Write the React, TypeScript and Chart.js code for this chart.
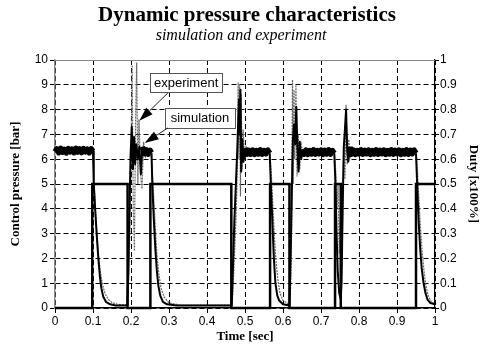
import React, { useEffect, useRef } from 'react';
import { Chart, registerables } from 'chart.js';

Chart.register(...registerables);

const TITLE = 'Dynamic pressure characteristics';
const SUBTITLE = 'simulation and experiment';
const X_TITLE = 'Time [sec]';
const Y_TITLE = 'Control pressure [bar]';
const Y1_TITLE = 'Duty [x100%]';

const xTickLabels = ['0', '0.1', '0.2', '0.3', '0.4', '0.5', '0.6', '0.7', '0.8', '0.9', '1'];
const yTickLabels = ['0', '1', '2', '3', '4', '5', '6', '7', '8', '9', '10'];
const y1TickLabels = ['0', '0.1', '0.2', '0.3', '0.4', '0.5', '0.6', '0.7', '0.8', '0.9', '1'];

// duty command [time, duty]
const duty: [number, number][] = [
  [0, 0], [0.098, 0], [0.098, 0.5], [0.191, 0.5], [0.191, 0], [0.251, 0], [0.251, 0.5],
  [0.464, 0.5], [0.464, 0], [0.566, 0], [0.566, 0.5], [0.617, 0.5], [0.617, 0],
  [0.737, 0], [0.737, 0.5], [0.752, 0.5], [0.752, 0], [0.95, 0], [0.95, 0.5], [1, 0.5],
];

// simulation pressure [time, bar]
const simulation: [number, number][] = [
  [0, 6.3], [0.005, 6.42], [0.01, 6.26], [0.015, 6.44], [0.02, 6.28], [0.025, 6.4], [0.03, 6.25],
  [0.035, 6.43], [0.04, 6.3], [0.045, 6.41], [0.05, 6.26], [0.055, 6.44], [0.06, 6.29], [0.065, 6.42],
  [0.07, 6.27], [0.075, 6.43], [0.08, 6.3], [0.085, 6.4], [0.09, 6.26], [0.095, 6.42], [0.1, 6.32],
  [0.102, 5.0], [0.106, 3.9], [0.11, 2.9], [0.114, 2.0], [0.118, 1.3], [0.122, 0.8], [0.127, 0.45],
  [0.134, 0.25], [0.145, 0.15], [0.16, 0.1], [0.19, 0.1],
  [0.193, 1.5], [0.196, 4.0], [0.199, 6.2], [0.202, 7.3], [0.205, 5.6], [0.208, 6.9], [0.211, 5.8],
  [0.214, 6.6], [0.218, 6.0], [0.222, 6.5], [0.226, 5.4], [0.23, 6.5], [0.235, 6.22], [0.24, 6.38],
  [0.245, 6.2], [0.25, 6.36], [0.254, 6.26],
  [0.256, 5.0], [0.26, 3.6], [0.264, 2.4], [0.268, 1.5], [0.272, 0.9], [0.277, 0.5], [0.284, 0.25],
  [0.295, 0.15], [0.32, 0.1], [0.465, 0.1],
  [0.468, 1.5], [0.472, 3.5], [0.476, 5.0], [0.48, 6.5], [0.484, 8.4], [0.486, 7.0], [0.488, 8.8],
  [0.49, 5.5], [0.493, 6.8], [0.496, 5.9], [0.5, 6.45], [0.505, 6.2],
  [0.51, 6.36], [0.515, 6.2], [0.52, 6.37], [0.525, 6.19], [0.53, 6.35], [0.535, 6.21], [0.54, 6.38],
  [0.545, 6.2], [0.55, 6.35], [0.555, 6.22], [0.56, 6.37], [0.565, 6.24],
  [0.568, 5.0], [0.572, 3.5], [0.576, 2.0], [0.58, 1.0], [0.585, 0.5], [0.59, 0.3], [0.6, 0.15], [0.617, 0.1],
  [0.62, 2.0], [0.623, 4.5], [0.626, 6.8], [0.629, 7.4], [0.632, 6.6], [0.635, 8.1], [0.638, 6.4],
  [0.641, 5.5], [0.644, 6.7], [0.648, 6.0], [0.652, 6.4],
  [0.655, 6.2], [0.66, 6.37], [0.665, 6.19], [0.67, 6.35], [0.675, 6.21], [0.68, 6.38], [0.685, 6.2],
  [0.69, 6.35], [0.695, 6.22], [0.7, 6.37], [0.705, 6.19], [0.71, 6.36], [0.715, 6.21], [0.72, 6.38],
  [0.725, 6.2], [0.73, 6.35], [0.735, 6.24],
  [0.738, 5.0], [0.741, 3.0], [0.744, 1.5], [0.748, 0.6], [0.752, 0.35], [0.754, 1.0], [0.757, 4.0],
  [0.76, 6.5], [0.763, 7.2], [0.766, 8.0], [0.769, 6.3], [0.772, 5.9], [0.776, 6.5], [0.78, 6.2],
  [0.785, 6.37], [0.79, 6.19], [0.795, 6.35], [0.8, 6.21], [0.805, 6.38], [0.81, 6.2], [0.815, 6.36],
  [0.82, 6.22], [0.825, 6.37], [0.83, 6.19], [0.835, 6.35], [0.84, 6.21], [0.845, 6.38], [0.85, 6.2],
  [0.855, 6.36], [0.86, 6.22], [0.865, 6.37], [0.87, 6.19], [0.875, 6.35], [0.88, 6.21], [0.885, 6.38],
  [0.89, 6.2], [0.895, 6.36], [0.9, 6.22], [0.905, 6.37], [0.91, 6.19], [0.915, 6.35], [0.92, 6.21],
  [0.925, 6.38], [0.93, 6.2], [0.935, 6.36], [0.94, 6.22], [0.945, 6.37], [0.95, 6.24],
  [0.953, 5.0], [0.957, 3.5], [0.961, 2.4], [0.965, 1.6], [0.97, 1.0], [0.975, 0.6], [0.98, 0.35],
  [0.988, 0.2], [1, 0.15],
];

// experiment pressure [time, bar]
const experiment: [number, number][] = [
  [0, 6.35], [0.02, 6.3], [0.04, 6.4], [0.06, 6.3], [0.08, 6.4], [0.1, 6.3],
  [0.103, 5.0], [0.107, 3.8], [0.111, 2.8], [0.115, 2.0], [0.12, 1.4], [0.125, 0.95], [0.131, 0.6],
  [0.14, 0.35], [0.15, 0.22], [0.165, 0.15], [0.19, 0.12],
  [0.193, 0.6], [0.197, 3.0], [0.2, 6.0], [0.203, 9.8], [0.206, 4.0], [0.209, 2.3], [0.212, 7.5],
  [0.215, 9.9], [0.218, 5.0], [0.221, 7.6], [0.225, 5.4], [0.229, 4.8], [0.233, 6.7], [0.238, 6.1],
  [0.245, 6.4], [0.252, 6.3],
  [0.256, 5.6], [0.26, 4.4], [0.264, 3.2], [0.268, 2.2], [0.273, 1.4], [0.279, 0.8], [0.287, 0.45],
  [0.3, 0.2], [0.33, 0.12], [0.465, 0.12],
  [0.468, 0.6], [0.472, 2.0], [0.476, 3.5], [0.479, 5.0], [0.482, 9.1], [0.484, 6.0], [0.486, 9.0],
  [0.488, 4.5], [0.49, 8.6], [0.492, 5.6], [0.495, 7.2], [0.499, 6.0], [0.503, 6.5], [0.51, 6.3],
  [0.54, 6.3], [0.565, 6.3],
  [0.569, 5.5], [0.573, 4.2], [0.577, 3.0], [0.581, 2.0], [0.586, 1.2], [0.592, 0.6], [0.6, 0.3], [0.617, 0.15],
  [0.62, 0.8], [0.623, 3.5], [0.625, 9.2], [0.627, 5.0], [0.629, 8.8], [0.631, 6.0], [0.634, 9.0],
  [0.637, 5.3], [0.64, 7.0], [0.644, 5.6], [0.648, 6.6], [0.653, 6.2], [0.66, 6.35], [0.7, 6.3], [0.735, 6.3],
  [0.739, 5.5], [0.742, 4.0], [0.745, 5.0], [0.748, 2.2], [0.751, 3.5], [0.754, 1.0], [0.757, 4.0],
  [0.76, 6.5], [0.763, 5.2], [0.766, 8.2], [0.769, 5.8], [0.773, 6.8], [0.777, 6.1], [0.782, 6.35],
  [0.85, 6.3], [0.95, 6.3],
  [0.954, 5.5], [0.958, 4.3], [0.962, 3.2], [0.966, 2.3], [0.971, 1.5], [0.976, 0.9], [0.982, 0.5],
  [0.99, 0.25], [1, 0.15],
];

// callout boxes in data coordinates (time, bar)
const callouts = [
  { text: 'experiment', x0: 0.25, y0: 9.48, x1: 0.44, y1: 8.71, from: [0.297, 8.67], to: [0.222, 7.55] },
  { text: 'simulation', x0: 0.289, y0: 8.06, x1: 0.474, y1: 7.26, from: [0.297, 7.26], to: [0.236, 6.65] },
];

const decorPlugin = {
  id: 'decor',
  afterDatasetsDraw(chart: any) {
    const { ctx, chartArea, scales } = chart;
    const xs = scales.x;
    const ys = scales.y;
    ctx.save();
    ctx.strokeStyle = '#888';
    ctx.lineWidth = 1;
    ctx.setLineDash([]);
    ctx.beginPath();
    ctx.moveTo(chartArea.left, chartArea.top + 0.5);
    ctx.lineTo(chartArea.right, chartArea.top + 0.5);
    ctx.stroke();
    for (const c of callouts) {
      const l = xs.getPixelForValue(c.x0);
      const r = xs.getPixelForValue(c.x1);
      const t = ys.getPixelForValue(c.y0);
      const b = ys.getPixelForValue(c.y1);
      ctx.fillStyle = '#fff';
      ctx.fillRect(l, t, r - l, b - t);
      ctx.strokeStyle = '#555';
      ctx.lineWidth = 1;
      ctx.strokeRect(Math.round(l) + 0.5, Math.round(t) + 0.5, Math.round(r - l), Math.round(b - t));
      ctx.fillStyle = '#000';
      ctx.font = '13px "Liberation Sans", Arial, sans-serif';
      ctx.textAlign = 'center';
      ctx.textBaseline = 'middle';
      ctx.fillText(c.text, (l + r) / 2, (t + b) / 2 + 0.5);
      const fx = xs.getPixelForValue(c.from[0]);
      const fy = ys.getPixelForValue(c.from[1]);
      const tx = xs.getPixelForValue(c.to[0]);
      const ty = ys.getPixelForValue(c.to[1]);
      const ang = Math.atan2(ty - fy, tx - fx);
      const hl = 14;
      const hw = 4.5;
      const bx = tx - hl * Math.cos(ang);
      const by = ty - hl * Math.sin(ang);
      ctx.strokeStyle = '#222';
      ctx.lineWidth = 1;
      ctx.beginPath();
      ctx.moveTo(fx, fy);
      ctx.lineTo(bx, by);
      ctx.stroke();
      ctx.fillStyle = '#000';
      ctx.beginPath();
      ctx.moveTo(tx, ty);
      ctx.lineTo(bx + hw * Math.sin(ang), by - hw * Math.cos(ang));
      ctx.lineTo(bx - hw * Math.sin(ang), by + hw * Math.cos(ang));
      ctx.closePath();
      ctx.fill();
    }
    ctx.restore();
  },
  afterDraw(chart: any) {
    const { ctx } = chart;
    ctx.save();
    ctx.fillStyle = '#000';
    ctx.textAlign = 'center';
    ctx.textBaseline = 'middle';
    ctx.font = 'bold 21px "Liberation Serif", "Times New Roman", serif';
    ctx.fillText(TITLE, 247, 16);
    ctx.font = 'italic 16px "Liberation Serif", "Times New Roman", serif';
    ctx.fillText(SUBTITLE, 241, 36);
    ctx.restore();
  },
};

const tickFont = { family: '"Liberation Sans", Arial, sans-serif', size: 12 };
const titleFont = { family: '"Liberation Serif", "Times New Roman", serif', size: 13, weight: 'bold' as const };

const inBand = (v: number) => v > 6.1 && v < 6.6;

export default function App() {
  const ref = useRef<HTMLCanvasElement | null>(null);
  useEffect(() => {
    if (!ref.current) return;
    const chart = new Chart(ref.current, {
      type: 'line',
      data: {
        datasets: [
          {
            label: 'duty',
            data: duty.map(([x, y]) => ({ x, y })),
            yAxisID: 'y1',
            borderColor: '#000',
            borderWidth: 2.5,
            pointRadius: 0,
            tension: 0,
            clip: 4,
            order: 0,
          },
          {
            label: 'simulation',
            data: simulation.map(([x, y]) => ({ x, y })),
            yAxisID: 'y',
            borderColor: '#000',
            borderWidth: 2,
            borderJoinStyle: 'round',
            pointRadius: 0,
            tension: 0,
            clip: 4,
            order: 1,
            segment: {
              borderWidth: (c: any) => (inBand(c.p0.parsed.y) && inBand(c.p1.parsed.y) ? 5.5 : 2),
              borderJoinStyle: () => 'round',
            },
          },
          {
            label: 'experiment',
            data: experiment.map(([x, y]) => ({ x, y })),
            yAxisID: 'y',
            borderColor: '#666',
            borderWidth: 1.2,
            borderDash: [2, 1],
            pointRadius: 0,
            tension: 0,
            clip: 4,
            order: 2,
          },
        ] as any,
      },
      options: {
        animation: false,
        responsive: true,
        maintainAspectRatio: false,
        layout: { padding: { top: 60, left: 0, right: 0, bottom: 0 } },
        plugins: { legend: { display: false }, tooltip: { enabled: false } },
        scales: {
          x: {
            type: 'linear',
            min: 0,
            max: 1,
            afterFit: (s: any) => { s.height = 42; },
            ticks: {
              stepSize: 0.1,
              font: tickFont,
              color: '#000',
              padding: 1,
              maxRotation: 0,
              callback: (v: any) => xTickLabels[Math.round(Number(v) * 10)],
            },
            grid: { color: '#000', lineWidth: 1, tickLength: 5, tickColor: '#000', tickBorderDash: [] },
            border: { display: true, color: '#000', width: 1.5, dash: [5, 3] },
            title: { display: true, text: X_TITLE, font: titleFont, color: '#000', padding: { top: 0, bottom: 6 } },
          },
          y: {
            type: 'linear',
            position: 'left',
            min: 0,
            max: 10,
            afterFit: (s: any) => { s.width = 55; },
            ticks: {
              stepSize: 1,
              font: tickFont,
              color: '#000',
              padding: 2,
              callback: (v: any) => yTickLabels[Math.round(Number(v))],
            },
            grid: { color: '#000', lineWidth: 1, tickLength: 5, tickColor: '#000', tickBorderDash: [] },
            border: { display: true, color: '#888', width: 1.5, dash: [5, 3] },
            title: { display: true, text: Y_TITLE, font: titleFont, color: '#000', padding: { top: 8, bottom: 0 } },
          },
          y1: {
            type: 'linear',
            position: 'right',
            min: 0,
            max: 1,
            afterFit: (s: any) => { s.width = 46; },
            ticks: {
              stepSize: 0.1,
              font: tickFont,
              color: '#000',
              padding: 1,
              callback: (v: any) => y1TickLabels[Math.round(Number(v) * 10)],
            },
            grid: { drawOnChartArea: false, color: '#000', tickLength: 4, tickColor: '#000', tickBorderDash: [] },
            border: { display: true, color: '#000', width: 1.2 },
            title: { display: true, text: Y1_TITLE, font: titleFont, color: '#000', padding: { top: 0, bottom: 0 } },
          },
        },
      } as any,
      plugins: [decorPlugin],
    });
    return () => chart.destroy();
  }, []);
  return (
    <div style={{ position: 'fixed', left: 0, top: 0, width: 481, height: 350, background: '#fff' }}>
      <canvas ref={ref} />
    </div>
  );
}
